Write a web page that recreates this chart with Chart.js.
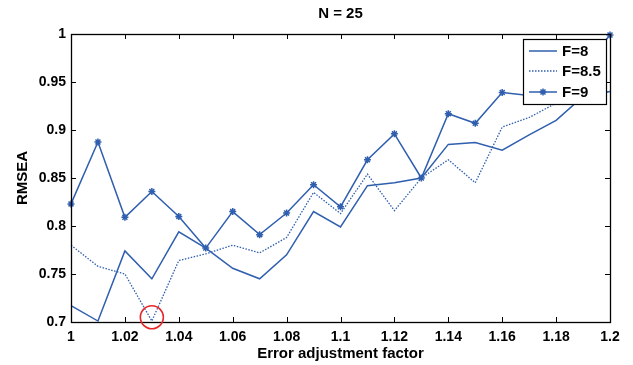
<!DOCTYPE html>
<html>
<head>
<meta charset="utf-8">
<script src="https://cdn.jsdelivr.net/npm/chart.js@4.4.1/dist/chart.umd.min.js"></script>
<style>
html,body{margin:0;padding:0;background:#fff;}
#wrap{width:633px;height:365px;position:relative;}
</style>
</head>
<body>
<div id="wrap"><canvas id="c" width="633" height="365"></canvas></div>
<script>
const factors = [1.00,1.01,1.02,1.03,1.04,1.05,1.06,1.07,1.08,1.09,1.10,1.11,1.12,1.13,1.14,1.15,1.16,1.17,1.18,1.19,1.20];
const rmseaF8  = [0.717,0.701,0.774,0.745,0.794,0.777,0.756,0.745,0.770,0.815,0.799,0.842,0.845,0.850,0.885,0.887,0.879,0.895,0.910,0.935,0.940];
const rmseaF85 = [0.780,0.758,0.750,0.701,0.764,0.771,0.780,0.772,0.788,0.835,0.813,0.854,0.816,0.850,0.869,0.845,0.903,0.913,0.928,0.940,0.940];
const rmseaF9  = [0.823,0.8875,0.809,0.836,0.810,0.777,0.815,0.791,0.8135,0.843,0.820,0.869,0.896,0.850,0.917,0.907,0.939,0.936,0.942,0.965,0.999];
const xTickValues = [1,1.02,1.04,1.06,1.08,1.1,1.12,1.14,1.16,1.18,1.2];
const yTickValues = [0.7,0.75,0.8,0.85,0.9,0.95,1];
const seriesNames = ['F=8','F=8.5','F=9'];
const highlight = {x:1.03, y:0.705};

const BLUE = '#2f5fae';
const FONT = "'Liberation Sans', Arial, sans-serif";

function pts(arr){ return factors.map((f,i)=>({x:f,y:arr[i]})); }

const boxTicks = {
  id:'boxTicks',
  afterDraw(chart){
    const {ctx, chartArea:a, scales:{x,y}} = chart;
    ctx.save();
    ctx.strokeStyle='#000';
    ctx.lineWidth=1;
    ctx.beginPath();
    xTickValues.forEach(v=>{
      const px=Math.round(x.getPixelForValue(v))+0.5;
      ctx.moveTo(px,a.bottom); ctx.lineTo(px,a.bottom-5);
      ctx.moveTo(px,a.top); ctx.lineTo(px,a.top+5);
    });
    yTickValues.forEach(v=>{
      const py=Math.round(y.getPixelForValue(v))+0.5;
      ctx.moveTo(a.left,py); ctx.lineTo(a.left+5,py);
      ctx.moveTo(a.right,py); ctx.lineTo(a.right-5,py);
    });
    ctx.stroke();
    ctx.lineWidth=1.3;
    ctx.strokeRect(Math.round(a.left)+0.5, Math.round(a.top)+0.5, Math.round(a.right-a.left), Math.round(a.bottom-a.top));
    // red circle highlight
    ctx.beginPath();
    ctx.strokeStyle='#e8262a';
    ctx.lineWidth=1.6;
    ctx.arc(x.getPixelForValue(highlight.x), y.getPixelForValue(highlight.y), 11.5, 0, Math.PI*2);
    ctx.stroke();
    // legend
    const lx=523, ly=39, lw=83, lh=65;
    ctx.fillStyle='#fff';
    ctx.fillRect(lx,ly,lw,lh);
    ctx.strokeStyle='#000';
    ctx.lineWidth=1.2;
    ctx.strokeRect(lx+0.5,ly+0.5,lw,lh);
    const rows=[51,71,92];
    chart.data.datasets.forEach((ds,i)=>{
      const yy=rows[i];
      ctx.beginPath();
      ctx.strokeStyle=ds.borderColor;
      ctx.lineWidth=ds.borderWidth;
      ctx.setLineDash(ds.borderDash||[]);
      ctx.moveTo(529,yy); ctx.lineTo(557,yy);
      ctx.stroke();
      ctx.setLineDash([]);
      if(ds.pointRadius>0){
        Chart.helpers.drawPoint(ctx,{pointStyle:'star',radius:3.5,borderWidth:1.5},543,yy);
      }
      ctx.fillStyle='#000';
      ctx.font="bold 15px "+FONT;
      ctx.textBaseline='middle';
      ctx.textAlign='left';
      ctx.fillText(ds.label,562,yy+1);
    });
    ctx.restore();
  }
};

new Chart(document.getElementById('c'),{
  type:'line',
  data:{
    datasets:[
      {label:seriesNames[0], data:pts(rmseaF8), borderColor:BLUE, backgroundColor:BLUE, borderWidth:1.5, pointRadius:0, tension:0},
      {label:seriesNames[1], data:pts(rmseaF85), borderColor:BLUE, backgroundColor:BLUE, borderWidth:1.3, borderDash:[1.5,1.5], pointRadius:0, tension:0},
      {label:seriesNames[2], data:pts(rmseaF9), borderColor:BLUE, backgroundColor:BLUE, borderWidth:1.5, pointRadius:3.5, pointStyle:'star', pointBorderWidth:1.5, pointBorderColor:BLUE, tension:0}
    ]
  },
  options:{
    responsive:false,
    animation:false,
    clip:false,
    layout:{padding:{left:0,right:23,top:0,bottom:0}},
    plugins:{
      legend:{display:false},
      tooltip:{enabled:false},
      title:{display:true,fullSize:false,text:'N = 25',color:'#000',font:{family:FONT,size:15,weight:'bold'},padding:{top:5,bottom:11}}
    },
    scales:{
      x:{
        type:'linear', min:1, max:1.2,
        afterBuildTicks(s){ s.ticks = xTickValues.map(v=>({value:v})); },
        afterFit(s){ s.height=43; },
        grid:{display:false, drawTicks:false},
        border:{display:false},
        ticks:{color:'#000', font:{family:FONT,size:14,weight:'bold'}, padding:7, maxRotation:0, autoSkip:false,
          callback:(v)=>String(parseFloat(Number(v).toFixed(2)))},
        title:{display:true,text:'Error adjustment factor',color:'#000',font:{family:FONT,size:15,weight:'bold'},padding:{top:0,bottom:2}}
      },
      y:{
        type:'linear', min:0.7, max:1,
        afterBuildTicks(s){ s.ticks = yTickValues.map(v=>({value:v})); },
        afterFit(s){ s.width=71; },
        grid:{display:false, drawTicks:false},
        border:{display:false},
        ticks:{color:'#000', font:{family:FONT,size:14,weight:'bold'}, padding:5, autoSkip:false,
          callback:(v)=>String(parseFloat(Number(v).toFixed(2)))},
        title:{display:true,text:'RMSEA',color:'#000',font:{family:FONT,size:15,weight:'bold'},padding:{top:14,bottom:0}}
      }
    }
  },
  plugins:[boxTicks]
});
</script>
</body>
</html>
